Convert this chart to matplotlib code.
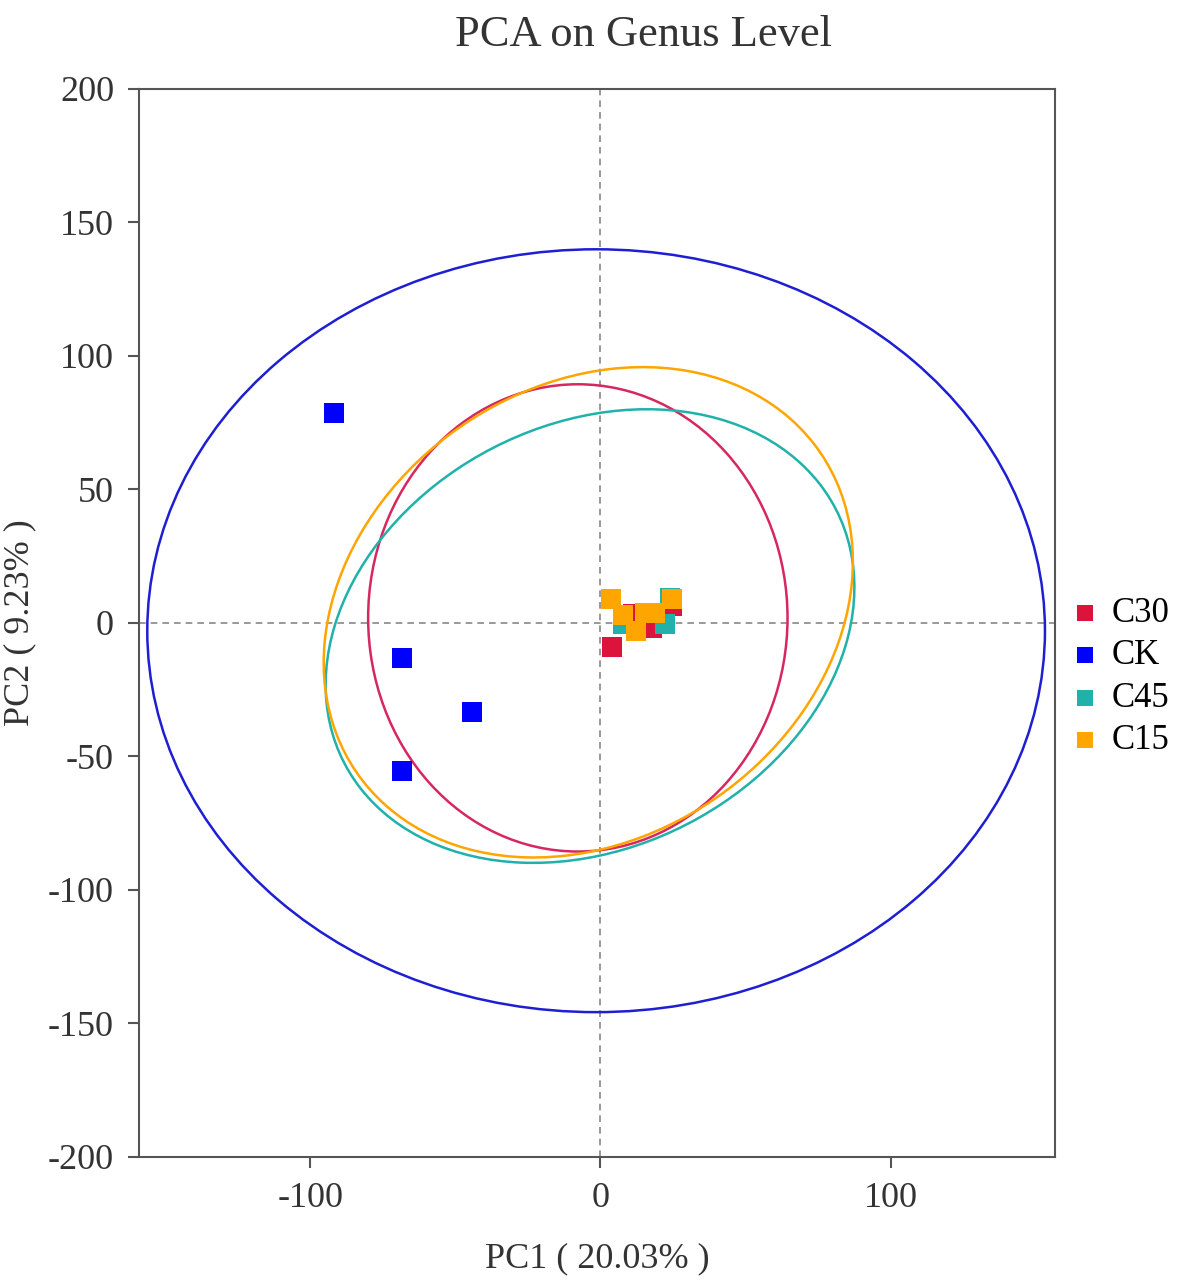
import matplotlib.pyplot as plt
from matplotlib.patches import Ellipse

plt.rcParams['font.family'] = ['Liberation Serif', 'DejaVu Serif']
plt.rcParams['axes.unicode_minus'] = False

groups = ['C30', 'CK', 'C45', 'C15']
colors = ['#DC143C', '#0000FF', '#20B2AA', '#FFA500']
ell_colors = ['#D6285E', '#1E1ED2', '#20B2AA', '#FFA500']

# sample scores (PC1, PC2)
c30_x = [3.8, 11.1, 17.8, 24.7]
c30_y = [-9.0, 3.5, -1.8, 6.4]
ck_x = [-91.7, -68.3, -44.1, -68.3]
ck_y = [78.7, -13.1, -33.3, -55.4]
c45_x = [7.8, 15.5, 22.4, 24.0]
c45_y = [-0.5, 3.9, -0.3, 9.5]
c15_x = [3.7, 7.8, 12.4, 15.4, 18.9, 24.5]
c15_y = [8.9, 3.1, -2.9, 3.6, 3.6, 8.9]

# confidence ellipses: centre x, centre y, width, height, angle
ell_cx = [-7.8, -1.5, -3.6, -4.2]
ell_cy = [1.9, -2.9, -4.9, 4.0]
ell_w = [144.5, 309.3, 195.0, 201.0]
ell_h = [175.0, 285.7, 155.0, 163.0]
ell_ang = [0, 0, 36, 46]

xs = [c30_x, ck_x, c45_x, c15_x]
ys = [c30_y, ck_y, c45_y, c15_y]

fig = plt.figure(figsize=(11.8, 12.8), dpi=100)
ax = fig.add_axes([0.1178, 0.0961, 0.776, 0.8344])

for i, g in enumerate(groups):
    ax.add_patch(Ellipse((ell_cx[i], ell_cy[i]), ell_w[i], ell_h[i], angle=ell_ang[i],
                         fill=False, edgecolor=ell_colors[i], lw=1.8, zorder=2))

ax.axhline(0, color='#888888', ls=(0, (4, 3)), lw=1.2, zorder=1)
ax.axvline(0, color='#888888', ls=(0, (4, 3)), lw=1.2, zorder=1)

for i, g in enumerate(groups):
    ax.scatter(xs[i], ys[i], marker='s', s=190, color=colors[i], label=g,
               linewidths=0, zorder=3)

ax.set_xlim(-159, 156.5)
ax.set_ylim(-200, 200)
ax.set_xticks([-100, 0, 100])
ax.set_yticks([-200, -150, -100, -50, 0, 50, 100, 150, 200])
ax.tick_params(labelsize=26, direction='out', length=8, width=1.5, colors='#555555',
               labelcolor='#333333', pad=10)
for s in ax.spines.values():
    s.set_color('#555555')
    s.set_linewidth(1.5)

ax.set_xlabel('PC1 ( 20.03% )', fontsize=26, color='#333333', labelpad=20)
ax.set_ylabel('PC2 ( 9.23% )', fontsize=26, color='#333333', labelpad=8)
fig.text(0.545, 0.988, 'PCA on Genus Level', fontsize=32, color='#333333',
         ha='center', va='top')

ax.legend(loc='center left', bbox_to_anchor=(0.905, 0.471), bbox_transform=fig.transFigure,
          frameon=False, fontsize=25, handletextpad=0.25, labelspacing=0.27,
          markerscale=0.85, borderaxespad=0, borderpad=0, handlelength=1.0)

fig.savefig('out.png', dpi=100)
